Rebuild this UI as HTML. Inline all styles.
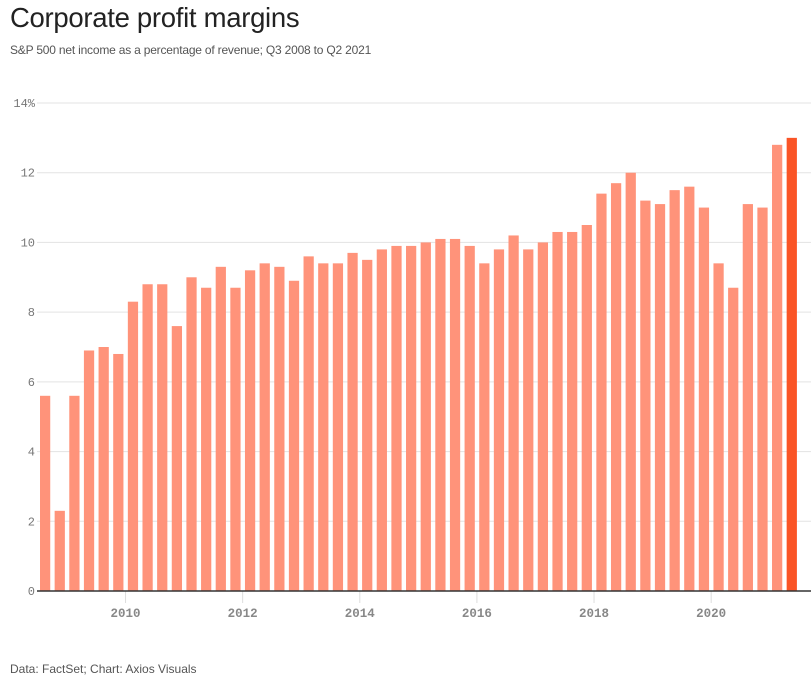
<!DOCTYPE html>
<html><head><meta charset="utf-8"><style>
body{margin:0;background:#fff;font-family:"Liberation Sans",sans-serif;}
#wrap{position:relative;width:811px;height:678px;overflow:hidden}
h1{position:absolute;left:10px;top:2px;margin:0;font-weight:400;font-size:27.5px;color:#222;letter-spacing:-0.3px}
.sub{position:absolute;left:10px;top:43px;font-size:12px;color:#555;letter-spacing:-0.2px}
.foot{position:absolute;left:10px;top:662px;font-size:12px;color:#555}
</style></head><body>
<div id="wrap">
<h1>Corporate profit margins</h1>
<div class="sub">S&amp;P 500 net income as a percentage of revenue; Q3 2008 to Q2 2021</div>
<svg id="chart" width="811" height="678" style="position:absolute;left:0;top:0"></svg>
<div class="foot">Data: FactSet; Chart: Axios Visuals</div>
</div>
<script>
const values=[5.6,2.3,5.6,6.9,7.0,6.8,8.3,8.8,8.8,7.6,9.0,8.7,9.3,8.7,9.2,9.4,9.3,8.9,9.6,9.4,9.4,9.7,9.5,9.8,9.9,9.9,10.0,10.1,10.1,9.9,9.4,9.8,10.2,9.8,10.0,10.3,10.3,10.5,11.4,11.7,12.0,11.2,11.1,11.5,11.6,11.0,9.4,8.7,11.1,11.0,12.8,13.0];
const yTicks=[0,2,4,6,8,10,12,14];
const xYears=[2010,2012,2014,2016,2018,2020];
const startYear=2008.5;
const NS="http://www.w3.org/2000/svg";
const svg=document.getElementById('chart');
const x0=37.7,x1=799,y0=591,yTop=103,yMax=14;
const step=(x1-x0)/values.length;
const yS=v=>y0-(v/yMax)*(y0-yTop);
const xYear=yr=>x0+(yr-startYear)*4*step;
function mk(t,a){const e=document.createElementNS(NS,t);for(const k in a)e.setAttribute(k,a[k]);svg.appendChild(e);return e;}
yTicks.forEach(t=>{
 if(t>0){const l=mk('line',{x1:37,x2:811,y1:yS(t),y2:yS(t),stroke:'#e3e3e3','stroke-width':1});
 
 }
 const tx=mk('text',{x:35,y:yS(t)+4,'text-anchor':'end','font-size':12,fill:'#777','font-family':'Liberation Mono, monospace'});
 tx.textContent=t===14?'14%':String(t);
 
 
});
xYears.forEach(yr=>{
 const x=xYear(yr);
 const l=mk('line',{x1:x,x2:x,y1:y0,y2:y0+12,stroke:'#ddd','stroke-width':1});
 
 
 const tx=mk('text',{x:x,y:y0+26,'text-anchor':'middle','font-size':12.5,fill:'#888','font-weight':'bold','font-family':'Liberation Mono, monospace'});
 tx.textContent=yr;
 
 
});
values.forEach((v,i)=>{
 const last=i===values.length-1;
 const r=mk('rect',{x:x0+i*step+2.3,y:yS(v),width:step-4.4,height:y0-yS(v),fill:last?'#fa5426':'#ff937a'});
 
 
});
const ax=mk('line',{x1:37,x2:811,y1:y0,y2:y0,stroke:'#333','stroke-width':1.5});


</script>
</body></html>
